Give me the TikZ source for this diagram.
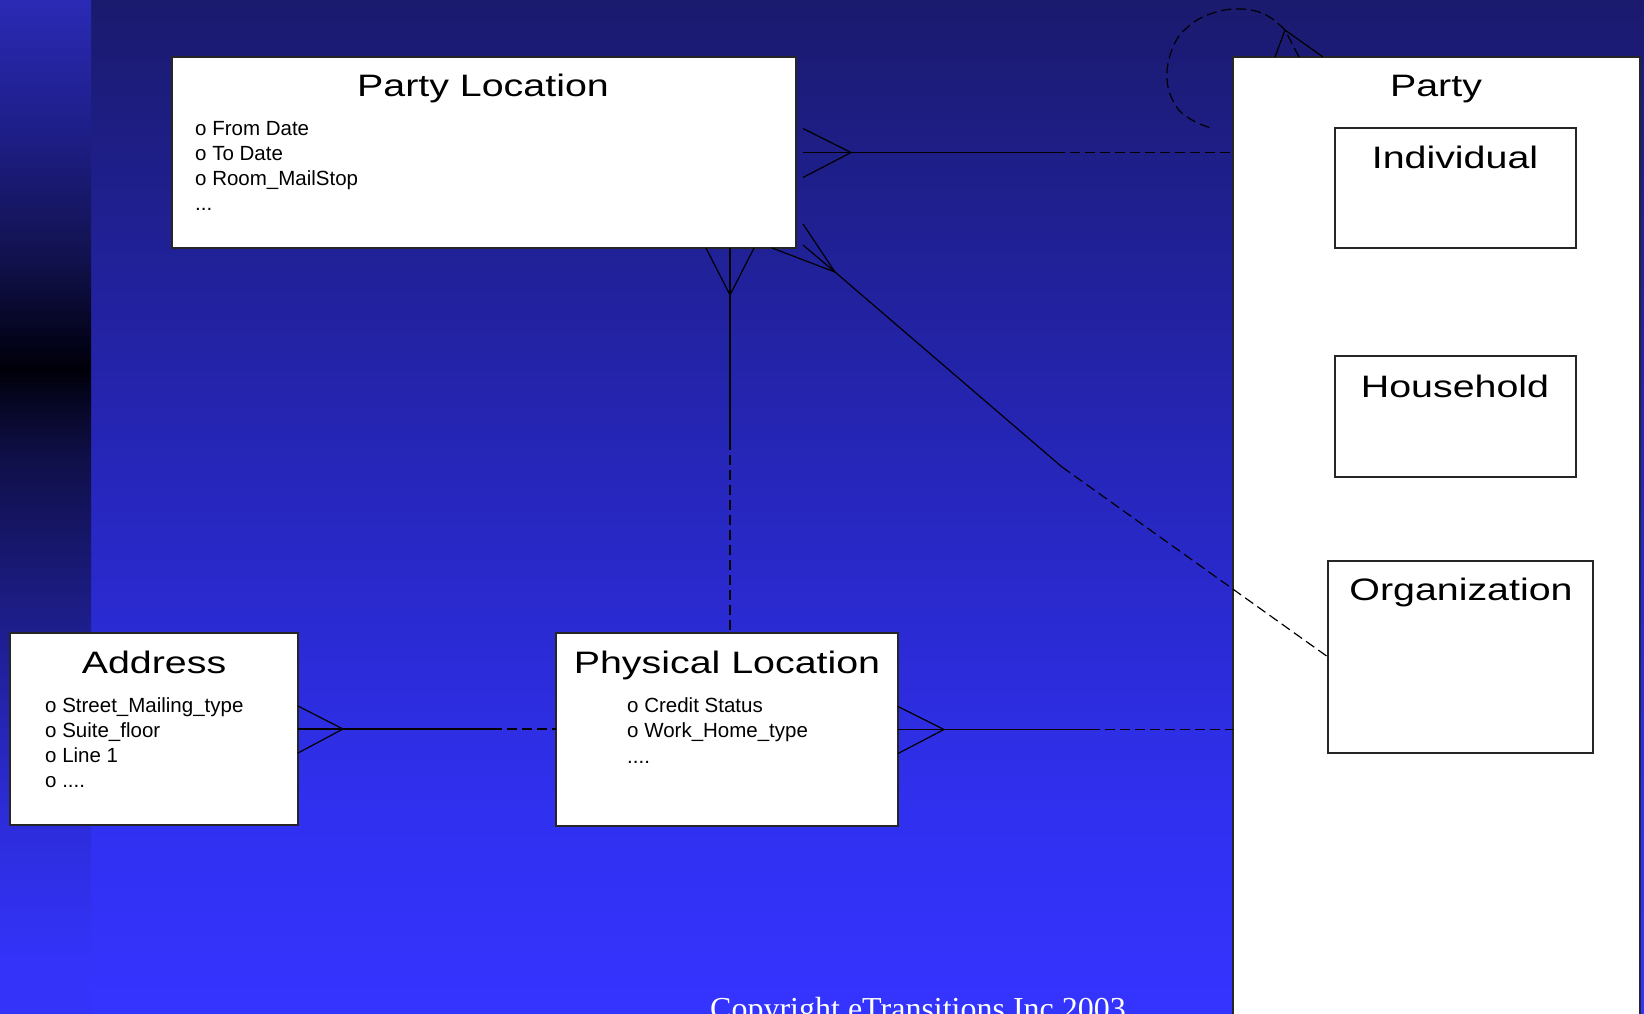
\documentclass[tikz,border=0pt]{standalone}
\usepackage{fontspec}
\usepackage{graphicx}
\setmainfont{Liberation Sans}
\newfontfamily\copyfont{Liberation Serif}
\usetikzlibrary{calc}
\definecolor{mbA}{HTML}{1A1A6E}
\definecolor{mbB}{HTML}{2727C0}
\definecolor{mbC}{HTML}{3030F0}
\definecolor{mbD}{HTML}{3434FF}
\definecolor{sbA}{HTML}{2A2AB5}
\definecolor{sbB}{HTML}{1E1E88}
\definecolor{sbC}{HTML}{121250}
\definecolor{sbD}{HTML}{03031A}
\definecolor{sbE}{HTML}{000008}
\definecolor{sbF}{HTML}{05051F}
\definecolor{sbG}{HTML}{0F0F48}
\definecolor{sbH}{HTML}{1C1C85}
\definecolor{sbI}{HTML}{2C2CD8}
\definecolor{sbJ}{HTML}{3333FA}
\pgfdeclareverticalshading{mainbg}{100bp}{color(0bp)=(mbD); color(25bp)=(mbD); color(35bp)=(mbC); color(50bp)=(mbB); color(75bp)=(mbA); color(100bp)=(mbA)}
\pgfdeclareverticalshading{stripbg}{100bp}{color(0bp)=(sbJ); color(25bp)=(sbJ); color(27.5bp)=(sbJ); color(35bp)=(sbI); color(45bp)=(sbH); color(52.5bp)=(sbG); color(55.5bp)=(sbF); color(56.75bp)=(sbE); color(58bp)=(sbD); color(62.5bp)=(sbC); color(68.5bp)=(sbB); color(75bp)=(sbA); color(100bp)=(sbA)}
\newcommand\enttitle[1]{\scalebox{1.27}[1]{\fontsize{31}{31}\selectfont #1}}
\tikzset{
  ent/.style={draw=black!85, line width=1.2pt, fill=white, anchor=north west, inner sep=0pt, outer sep=0pt},
  ttl/.style={anchor=base, inner sep=0pt, text=black},
  attr/.style={anchor=base west, inner sep=0pt, text=black, font=\fontsize{20.5}{25}\selectfont},
  rel/.style={line width=1.2pt, draw=black},
  reld/.style={rel, dash pattern=on 10pt off 5pt},
}
\begin{document}
\begin{tikzpicture}[x=1pt,y=-1pt]
\useasboundingbox (0,0) rectangle (1644,1013);
\clip (0,0) rectangle (1644,1013);
\fill[shading=mainbg] (0,0) rectangle (1644,1013);
\fill[shading=stripbg] (0,0) rectangle (91,1013);

% entity boxes
\node[ent, minimum width=624pt, minimum height=191pt] (pl) at (172,57) {};
\node[ent, minimum width=407pt, minimum height=1000pt] (party) at (1233,57) {};
\node[ent, minimum width=241pt, minimum height=120pt] (ind) at (1335,128) {};
\node[ent, minimum width=241pt, minimum height=121pt] (hh) at (1335,356) {};
\node[ent, minimum width=265pt, minimum height=192pt] (org) at (1328,561) {};
\node[ent, minimum width=288pt, minimum height=192pt] (addr) at (10,633) {};
\node[ent, minimum width=342pt, minimum height=193pt] (phys) at (556,633) {};

% titles
\node[ttl] (plt) at (483,96) {\enttitle{Party Location}};
\node[ttl] (pt) at (1436,96) {\enttitle{Party}};
\node[ttl] (indt) at (1455,168) {\enttitle{Individual}};
\node[ttl] (hht) at (1455,397) {\enttitle{Household}};
\node[ttl] (orgt) at (1461,600) {\enttitle{Organization}};
\node[ttl] (addrt) at (154,673) {\enttitle{Address}};
\node[ttl] (physt) at (727,673) {\enttitle{Physical Location}};

% attributes
\node[attr] (pla1) at (195,135) {o From Date};
\node[attr] (pla2) at (195,160) {o To Date};
\node[attr] (pla3) at (195,185) {o Room\_MailStop};
\node[attr] (pla4) at (195,210) {...};
\node[attr] (ada1) at (45,712) {o Street\_Mailing\_type};
\node[attr] (ada2) at (45,737) {o Suite\_floor};
\node[attr] (ada3) at (45,762) {o Line 1};
\node[attr] (ada4) at (45,787) {o ....};
\node[attr] (pha1) at (627,712) {o Credit Status};
\node[attr] (pha2) at (627,737) {o Work\_Home\_type};
\node[attr] (pha3) at (627,763) {....};

% Party Location -> Party
\coordinate (t1) at ($(pl.east)+(55,0)$);
\coordinate (m1) at ($(pl.east)+(259,0)$);
\draw[rel] ($(pl.east)+(7,-24)$) -- (t1) -- ($(pl.east)+(7,25)$);
\draw[rel] ($(pl.east)+(7,0)$) -- (m1);
\draw[reld] (m1) -- (party.west |- m1);

% Party Location -> Physical Location
\coordinate (t2) at ($(pl.south)+(246,47)$);
\coordinate (m2) at ($(pl.south)+(246,192)$);
\draw[rel] ($(pl.south)+(222,0)$) -- (t2) -- ($(pl.south)+(270,0)$);
\draw[rel] ($(pl.south)+(246,0)$) -- (m2);
\draw[reld] (m2) -- (phys.north -| m2);

% Party Location -> Organization
\coordinate (t3) at ($(pl.south east)+(39,24)$);
\coordinate (m3) at ($(pl.south east)+(266,219)$);
\draw[rel] ($(pl.south east)+(-24,0)$) -- (t3) -- ($(pl.south east)+(7,-24)$);
\draw[rel] ($(pl.south east)+(7,-3)$) -- (t3) -- (m3);
\draw[reld] (m3) -- (org.west);

% Address -> Physical Location
\coordinate (t4) at ($(addr.east)+(45,0)$);
\coordinate (m4) at ($(addr.east)+(194,0)$);
\draw[rel] ($(addr.east)+(0,-23)$) -- (t4) -- ($(addr.east)+(0,24)$);
\draw[rel] (addr.east) -- (m4);
\draw[reld] (m4) -- (phys.west |- m4);

% Physical Location -> Party
\coordinate (t5) at ($(phys.east)+(46,0)$);
\coordinate (m5) at ($(phys.east)+(192,0)$);
\draw[rel] ($(phys.east)+(0,-23)$) -- (t5) -- ($(phys.east)+(0,24)$);
\draw[rel] (phys.east) -- (m5);
\draw[reld] (m5) -- (party.west |- m5);

% Party self relationship
\coordinate (t6) at ($(party.north west)+(52,-27)$);
\coordinate (l6) at ($(party.north west)+(-22,71)$);
\draw[rel] ($(party.north west)+(42,0)$) -- (t6) -- ($(party.north west)+(90,0)$);
\draw[reld] ($(party.north west)+(66,0)$) -- (t6);
\draw[reld] plot[smooth, tension=0.7] coordinates {(t6) (1266,15) (1241,9) (1213,13) (1189,26) (1173,47) (1167,79) (1176,106) (1192,120) (l6)};

% copyright
\node[anchor=base west, inner sep=0pt, text=white, font=\copyfont\fontsize{32}{32}\selectfont] (copy) at (710,1019) {Copyright eTransitions Inc 2003};
\end{tikzpicture}
\end{document}
